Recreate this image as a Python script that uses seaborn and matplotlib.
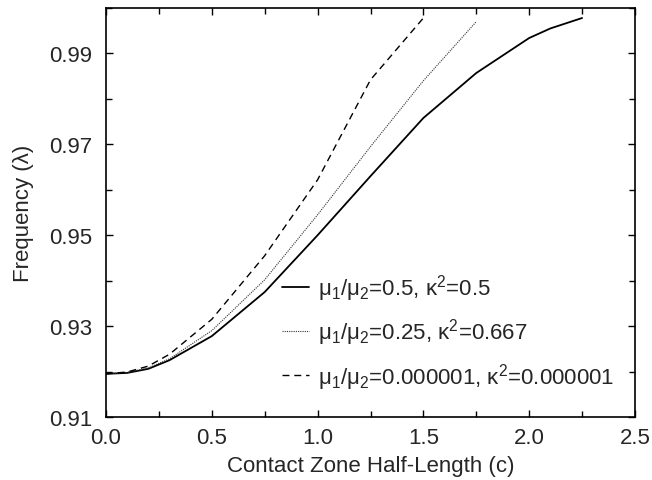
import numpy as np
import pandas as pd
import matplotlib
matplotlib.use("Agg")
import matplotlib.pyplot as plt
import seaborn as sns
from matplotlib.ticker import MultipleLocator

# values
c_a = [0.0, 0.1, 0.2, 0.3, 0.5, 0.75, 1.0, 1.25, 1.5, 1.75, 2.0, 2.1, 2.25]
lam_a = [0.9195, 0.9197, 0.9206, 0.9225, 0.9278, 0.9375, 0.9500, 0.9630, 0.9758, 0.9857, 0.9934, 0.9955, 0.9978]

c_b = [0.0, 0.1, 0.2, 0.3, 0.5, 0.75, 1.0, 1.25, 1.5, 1.75]
lam_b = [0.9195, 0.9198, 0.9208, 0.9228, 0.9290, 0.9402, 0.9545, 0.9695, 0.9840, 0.9970]

c_c = [0.0, 0.1, 0.2, 0.3, 0.5, 0.75, 1.0, 1.25, 1.5]
lam_c = [0.9195, 0.9199, 0.9212, 0.9238, 0.9315, 0.9455, 0.9622, 0.9842, 0.9978]

labels = [r"$\mu_1/\mu_2$=0.5, $\kappa^2$=0.5",
          r"$\mu_1/\mu_2$=0.25, $\kappa^2$=0.667",
          r"$\mu_1/\mu_2$=0.000001, $\kappa^2$=0.000001"]

y_ticks = [0.91, 0.93, 0.95, 0.97, 0.99]
x_ticks = [0.0, 0.5, 1.0, 1.5, 2.0, 2.5]

sns.set_style("ticks")
plt.rcParams["font.family"] = ["Liberation Sans", "DejaVu Sans"]
plt.rcParams["mathtext.fontset"] = "custom"
plt.rcParams["mathtext.rm"] = "Liberation Sans"
plt.rcParams["mathtext.it"] = "Liberation Sans"
plt.rcParams["mathtext.default"] = "regular"

fig = plt.figure(figsize=(6.52, 4.81), dpi=100)
ax = fig.add_axes([106 / 652, 1 - 418 / 481, 529 / 652, 409 / 481])

sns.lineplot(x=c_a, y=lam_a, ax=ax, color="black", linewidth=1.3,
             linestyle="-", label=labels[0])
sns.lineplot(x=c_b, y=lam_b, ax=ax, color="#333333", linewidth=0.8,
             linestyle=(0, (1, 1)), label=labels[1])
sns.lineplot(x=c_c, y=lam_c, ax=ax, color="black", linewidth=1.0,
             linestyle=(0, (5, 3.5)), label=labels[2])

ax.set_xlim(0, 2.5)
ax.set_ylim(0.91, 1.0)
ax.set_xticks(x_ticks)
ax.set_xticklabels([f"{v:.1f}" for v in x_ticks])
ax.set_yticks(y_ticks)
ax.set_yticklabels([f"{v:.2f}" for v in y_ticks])
ax.xaxis.set_minor_locator(MultipleLocator(0.25))
ax.yaxis.set_minor_locator(MultipleLocator(0.01))

ax.tick_params(which="both", direction="in", top=True, right=True,
               labelsize=16, width=1.0, color="black")
ax.tick_params(which="major", length=5)
ax.tick_params(which="minor", length=4)
ax.tick_params(axis="x", which="major", pad=7)
ax.tick_params(axis="y", which="major", pad=10)
for s in ax.spines.values():
    s.set_linewidth(1.2)
    s.set_color("black")

ax.set_xlabel("Contact Zone Half-Length (c)", fontsize=16, labelpad=5)
ax.set_ylabel("Frequency (\u03bb)", fontsize=16, labelpad=11)

ax.legend(loc="center left", bbox_to_anchor=(0.333, 0.208), frameon=False,
          fontsize=16, handlelength=1.2, handletextpad=0.4,
          labelspacing=0.6, borderpad=0, borderaxespad=0)

fig.savefig("out.png", dpi=100)
